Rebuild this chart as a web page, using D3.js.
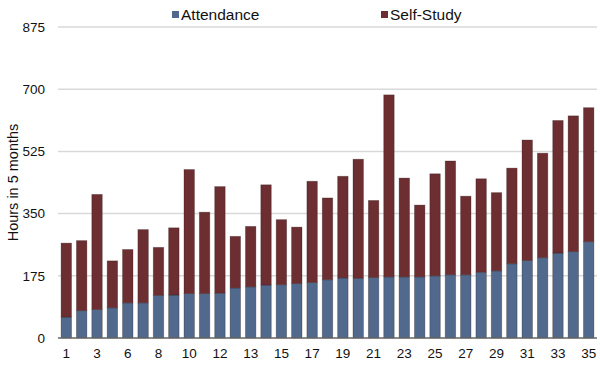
<!DOCTYPE html>
<html>
<head>
<meta charset="utf-8">
<script src="https://cdn.jsdelivr.net/npm/d3@7"></script>
<style>
  body { margin: 0; background: #fff; }
  text { font-family: "Liberation Sans", Arial, sans-serif; fill: #111; }
</style>
</head>
<body>
<div class="chart"></div>
<script>
// x labels (every other one is shown)
let labels = ['1', '2', '3', '5', '6', '7', '8', '9', '10', '11', '12', '12',
  '13', '14', '15', '16', '17', '18', '19', '20', '21', '22', '23', '24', '25',
  '26', '27', '28', '29', '30', '31', '32', '33', '34', '35']
let attendance = [59, 77, 80, 85, 99, 99, 120, 121, 125, 125, 126, 141,
  144, 149, 150, 153, 156, 164, 169, 168, 170, 172, 172, 172, 175,
  178, 178, 185, 189, 209, 218, 226, 239, 243, 271]
let selfStudy = [208, 197, 324, 132, 150, 206, 135, 189, 349, 229, 300, 145,
  170, 282, 183, 159, 285, 230, 286, 335, 217, 512, 278, 202, 287,
  320, 221, 263, 220, 269, 339, 294, 373, 382, 377]
let yTicks = [0, 175, 350, 525, 700, 875]
let seriesNames = ['Attendance', 'Self-Study']
let colors = ['#50698c', '#6c2e31']

let w = 600, h = 370
let margin = { left: 58, right: 3, top: 27, bottom: 32 }

let svg = d3.select('.chart').append('svg')
  .attr('width', w)
  .attr('height', h)

let rows = labels.map((l, i) => ({ i: i, Attendance: attendance[i], 'Self-Study': selfStudy[i] }))
let stacked = d3.stack().keys(seriesNames)(rows)

let xScale = d3.scaleBand()
  .domain(d3.range(labels.length))
  .range([margin.left, w - margin.right])
  .paddingInner(0.32)
  .paddingOuter(0.2)
let yScale = d3.scaleLinear()
  .domain([0, 875])
  .range([h - margin.bottom, margin.top])

//网格线
svg.append('g')
  .attr('class', 'grid')
  .selectAll('line')
  .data(yTicks.slice(1))
  .enter()
  .append('line')
  .attr('x1', margin.left)
  .attr('x2', w - margin.right)
  .attr('y1', d => yScale(d))
  .attr('y2', d => yScale(d))
  .attr('stroke', '#d9d9d9')
  .attr('stroke-width', 1.5)

//柱子
svg.selectAll('g.series')
  .data(stacked)
  .enter()
  .append('g')
  .attr('class', 'series')
  .attr('fill', (d, k) => colors[k])
  .selectAll('rect')
  .data(d => d)
  .enter()
  .append('rect')
  .attr('x', d => xScale(d.data.i))
  .attr('y', d => yScale(d[1]))
  .attr('width', xScale.bandwidth())
  .attr('height', d => yScale(d[0]) - yScale(d[1]))
  .attr('stroke', 'rgba(40,20,20,0.35)')
  .attr('stroke-width', 0.8)

//坐标轴
let yAxis = d3.axisLeft(yScale).tickValues(yTicks).tickSize(0).tickPadding(13)
svg.append('g')
  .attr('class', 'y axis')
  .attr('transform', `translate(${margin.left}, 0)`)
  .call(yAxis)
  .call(g => g.select('.domain').remove())
  .selectAll('text')
  .attr('font-size', '13.5px')
  .attr('font-family', '"Liberation Sans", Arial, sans-serif')
  .attr('fill', '#111')

let xAxis = d3.axisBottom(xScale)
  .tickValues(d3.range(0, labels.length, 2))
  .tickFormat(i => labels[i])
  .tickSize(0)
  .tickPadding(10)
svg.append('g')
  .attr('class', 'x axis')
  .attr('transform', `translate(0, ${h - margin.bottom})`)
  .call(xAxis)
  .call(g => g.select('.domain').remove())
  .selectAll('text')
  .attr('font-size', '13.5px')
  .attr('font-family', '"Liberation Sans", Arial, sans-serif')
  .attr('fill', '#111')

svg.append('line')
  .attr('x1', margin.left)
  .attr('x2', w - margin.right)
  .attr('y1', yScale(0))
  .attr('y2', yScale(0))
  .attr('stroke', '#666')
  .attr('stroke-width', 1.5)

//y轴标题
svg.append('text')
  .attr('transform', `translate(18, ${(yScale(0) + yScale(875)) / 2}) rotate(-90)`)
  .attr('text-anchor', 'middle')
  .attr('font-size', '14.5px')
  .text('Hours in 5 months')

//图例
let legendX = [172, 381]
let legend = svg.selectAll('g.legend')
  .data(seriesNames)
  .enter()
  .append('g')
  .attr('class', 'legend')
  .attr('transform', (d, k) => `translate(${legendX[k]}, 15)`)
legend.append('rect')
  .attr('x', 0)
  .attr('y', -4)
  .attr('width', 7)
  .attr('height', 7)
  .attr('fill', (d, k) => colors[k])
legend.append('text')
  .attr('x', 9)
  .attr('y', 5)
  .attr('font-size', '15.5px')
  .text(d => d)
</script>
</body>
</html>
